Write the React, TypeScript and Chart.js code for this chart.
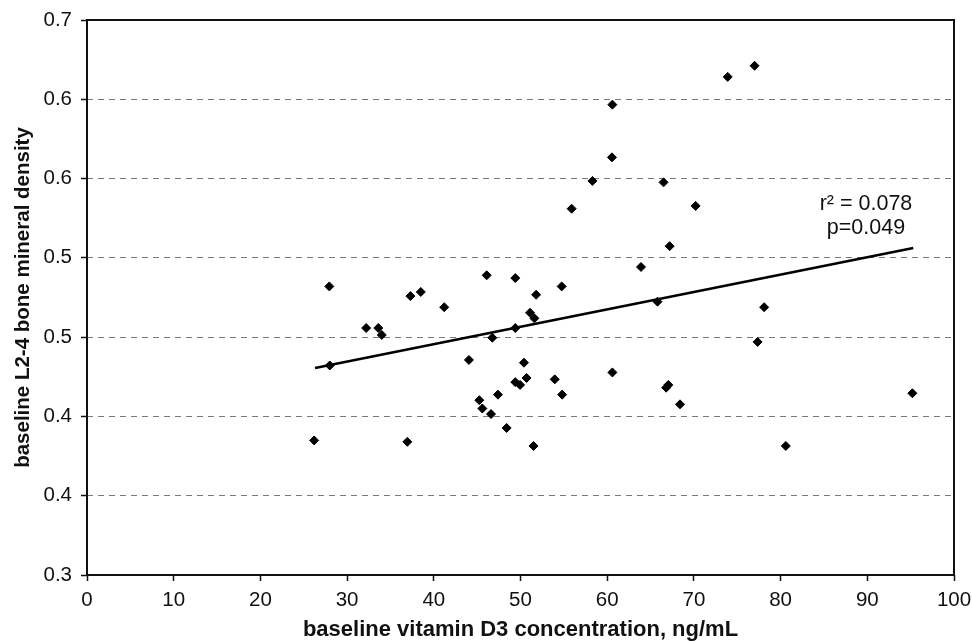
import React, { useEffect, useRef } from "react";
import { Chart, registerables } from "chart.js";

Chart.register(...registerables);

// Scatter data: baseline vitamin D3 (ng/mL) vs baseline L2-4 BMD
const vitaminD3 = [
  26.2, 28.0, 27.95, 32.2, 33.6, 34.0, 36.95, 37.3, 38.5, 41.2,
  44.05, 45.25, 45.6, 46.1, 46.6, 46.75, 47.4, 48.4, 49.4, 49.4,
  49.4, 49.95, 50.4, 50.7, 51.1, 51.6, 51.5, 51.8, 53.95, 54.75,
  54.8, 55.9, 58.3, 60.55, 60.6, 60.6, 63.9, 65.8, 66.5, 66.8,
  67.05, 67.2, 68.4, 70.2, 73.9, 77.0, 77.35, 78.1, 80.6, 95.2,
];
const boneDensity = [
  0.397, 0.451, 0.508, 0.478, 0.478, 0.473, 0.396, 0.501, 0.504, 0.493,
  0.455, 0.426, 0.42, 0.516, 0.416, 0.471, 0.43, 0.406, 0.514, 0.478,
  0.439, 0.437, 0.453, 0.442, 0.489, 0.485, 0.393, 0.502, 0.441, 0.508,
  0.43, 0.564, 0.584, 0.601, 0.639, 0.446, 0.522, 0.497, 0.583, 0.435,
  0.437, 0.537, 0.423, 0.566, 0.659, 0.667, 0.468, 0.493, 0.393, 0.431,
];

// Regression line end points
const trendX = [26.3, 95.3];
const trendY = [0.4492, 0.5357];

// Axis ticks
const xTickValues = [0, 10, 20, 30, 40, 50, 60, 70, 80, 90, 100];
const yTickValues = [0.3, 0.3571, 0.4143, 0.4714, 0.5286, 0.5857, 0.6429, 0.7];
const yTickLabels = ["0.3", "0.4", "0.4", "0.5", "0.5", "0.6", "0.6", "0.7"];

// Annotation
const annotationLines = ["r\u00B2 = 0.078", "p=0.049"];
const annotationX = 89.85;
const annotationY = [0.5673, 0.55];

const xTitle = "baseline vitamin D3 concentration, ng/mL";
const yTitle = "baseline L2-4 bone mineral density";

const FONT = "'Liberation Sans', Arial, Helvetica, sans-serif";

export default function App() {
  const canvasRef = useRef<HTMLCanvasElement | null>(null);

  useEffect(() => {
    document.body.style.margin = "0";
    document.body.style.background = "#ffffff";
    const canvas = canvasRef.current;
    if (!canvas) return;

    const framePlugin = {
      id: "frameAndText",
      afterDraw(chart: any) {
        const { ctx, chartArea, scales } = chart;
        ctx.save();
        ctx.strokeStyle = "#111111";
        ctx.lineWidth = 2;
        ctx.strokeRect(
          chartArea.left,
          chartArea.top,
          chartArea.right - chartArea.left,
          chartArea.bottom - chartArea.top
        );
        ctx.fillStyle = "#111111";
        ctx.font = `21.5px ${FONT}`;
        ctx.textAlign = "center";
        ctx.textBaseline = "middle";
        annotationLines.forEach((t, i) => {
          const px = scales.x.getPixelForValue(annotationX);
          const py = scales.y.getPixelForValue(annotationY[i]);
          ctx.fillText(t, px, py);
        });
        ctx.restore();
      },
    };

    const chart = new Chart(canvas, {
      type: "scatter",
      data: {
        datasets: [
          {
            type: "scatter",
            data: vitaminD3.map((x, i) => ({ x, y: boneDensity[i] })),
            pointStyle: "rectRot",
            pointRadius: 4.5,
            pointBackgroundColor: "#000000",
            pointBorderColor: "#000000",
            pointBorderWidth: 1,
          } as any,
          {
            type: "line",
            data: trendX.map((x, i) => ({ x, y: trendY[i] })),
            borderColor: "#000000",
            borderWidth: 2.5,
            pointRadius: 0,
            fill: false,
          } as any,
        ],
      },
      options: {
        animation: false,
        responsive: false,
        maintainAspectRatio: false,
        layout: { padding: { top: 20, right: 18, left: 0, bottom: 0 } },
        plugins: {
          legend: { display: false },
          tooltip: { enabled: false },
        },
        scales: {
          x: {
            type: "linear",
            min: 0,
            max: 100,
            afterFit(scale: any) {
              scale.height = 66;
              scale.paddingRight = 0;
              scale.paddingLeft = 0;
            },
            afterBuildTicks(axis: any) {
              axis.ticks = xTickValues.map((v) => ({ value: v }));
            },
            ticks: {
              color: "#111111",
              font: { family: FONT, size: 20.5 },
              padding: 7,
              maxRotation: 0,
              autoSkip: false,
            },
            grid: {
              drawOnChartArea: false,
              tickLength: 6,
              tickColor: "#111111",
              tickWidth: 1.5,
            },
            border: { display: false },
            title: {
              display: true,
              text: xTitle,
              color: "#111111",
              font: { family: FONT, size: 22, weight: "bold", lineHeight: 1 },
              padding: { top: 0, bottom: 0 },
            },
          },
          y: {
            type: "linear",
            min: 0.3,
            max: 0.7,
            afterFit(scale: any) {
              scale.width = 87;
              scale.paddingTop = 0;
              scale.paddingBottom = 0;
            },
            afterBuildTicks(axis: any) {
              axis.ticks = yTickValues.map((v) => ({ value: v }));
            },
            ticks: {
              color: "#111111",
              font: { family: FONT, size: 20.5 },
              padding: 9,
              autoSkip: false,
              callback: (_v: any, i: number) => yTickLabels[i],
            },
            grid: {
              color: "#7a7a7a",
              lineWidth: 1,
              tickLength: 6,
              tickColor: "#111111",
              tickWidth: 1.5,
            },
            border: { display: false, dash: [6, 5] },
            title: {
              display: true,
              text: yTitle,
              color: "#111111",
              font: { family: FONT, size: 20.5, weight: "bold", lineHeight: 1 },
              padding: { top: 13, bottom: 0 },
            },
          },
        },
      } as any,
      plugins: [framePlugin],
    });

    return () => chart.destroy();
  }, []);

  return (
    <div style={{ width: 972, height: 641, background: "#ffffff" }}>
      <canvas ref={canvasRef} width={972} height={641} style={{ display: "block" }} />
    </div>
  );
}
